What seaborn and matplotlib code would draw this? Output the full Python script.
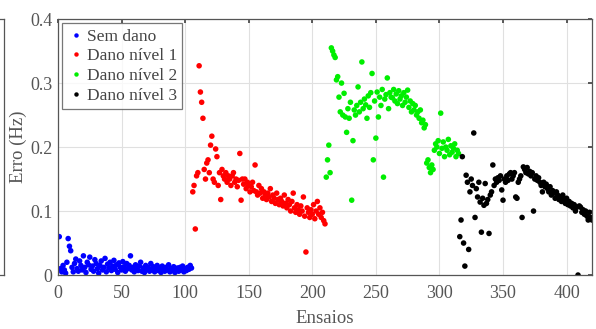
import numpy as np
import pandas as pd
import matplotlib
matplotlib.use("Agg")
import matplotlib.pyplot as plt
import seaborn as sns

categories = ["Sem dano", "Dano nível 1", "Dano nível 2", "Dano nível 3"]
colors = ["#0000ff", "#ff0000", "#00ee00", "#000000"]

sem_dano = [
    0.060, 0.010, 0.005, 0.015, 0.008, 0.003, 0.020, 0.057, 0.045, 0.038,
    0.012, 0.005, 0.018, 0.025, 0.010, 0.006, 0.022, 0.015, 0.008, 0.030,
    0.012, 0.004, 0.020, 0.016, 0.028, 0.009, 0.014, 0.006, 0.024, 0.018,
    0.010, 0.003, 0.015, 0.022, 0.008, 0.012, 0.026, 0.005, 0.017, 0.011,
    0.020, 0.007, 0.014, 0.023, 0.009, 0.016, 0.004, 0.019, 0.012, 0.008,
    0.021, 0.013, 0.006, 0.018, 0.010, 0.015, 0.030, 0.008, 0.012, 0.005,
    0.016, 0.010, 0.007, 0.014, 0.020, 0.006, 0.011, 0.004, 0.015, 0.009,
    0.012, 0.006, 0.018, 0.008, 0.013, 0.005, 0.010, 0.015, 0.007, 0.011,
    0.004, 0.014, 0.009, 0.006, 0.012, 0.008, 0.016, 0.005, 0.010, 0.007,
    0.013, 0.004, 0.009, 0.011, 0.006, 0.012, 0.008, 0.014, 0.005, 0.010,
    0.007, 0.012, 0.009, 0.015, 0.011,
]

dano_1 = [
    0.130, 0.140, 0.072, 0.155, 0.160, 0.327, 0.286, 0.270, 0.245, 0.165,
    0.150, 0.175, 0.180, 0.160, 0.203, 0.217, 0.150, 0.145, 0.197, 0.185,
    0.140, 0.160, 0.118, 0.165, 0.155, 0.150, 0.160, 0.145, 0.155, 0.150,
    0.140, 0.155, 0.160, 0.145, 0.150, 0.138, 0.148, 0.190, 0.117, 0.150,
    0.142, 0.150, 0.135, 0.145, 0.140, 0.130, 0.138, 0.145, 0.132, 0.172,
    0.130, 0.125, 0.140, 0.128, 0.135, 0.120, 0.130, 0.125, 0.118, 0.128,
    0.122, 0.135, 0.115, 0.125, 0.120, 0.112, 0.128, 0.118, 0.110, 0.120,
    0.115, 0.108, 0.125, 0.112, 0.105, 0.118, 0.110, 0.100, 0.115, 0.128,
    0.105, 0.098, 0.110, 0.102, 0.095, 0.108, 0.100, 0.122, 0.092, 0.036,
    0.105, 0.098, 0.090, 0.102, 0.095, 0.110, 0.088, 0.100, 0.115, 0.095,
    0.105, 0.090, 0.098, 0.085, 0.080,
]

dano_2 = [
    0.153, 0.180, 0.203, 0.160, 0.355, 0.350, 0.344, 0.340, 0.305, 0.310,
    0.278, 0.255, 0.300, 0.250, 0.284, 0.247, 0.223, 0.260, 0.245, 0.270,
    0.117, 0.210, 0.258, 0.250, 0.265, 0.294, 0.255, 0.270, 0.333, 0.260,
    0.275, 0.266, 0.245, 0.280, 0.262, 0.285, 0.315, 0.180, 0.272, 0.214,
    0.286, 0.247, 0.278, 0.265, 0.290, 0.153, 0.275, 0.282, 0.308, 0.260,
    0.285, 0.278, 0.277, 0.290, 0.272, 0.283, 0.268, 0.288, 0.275, 0.280,
    0.265, 0.285, 0.270, 0.278, 0.289, 0.262, 0.272, 0.255, 0.268, 0.258,
    0.265, 0.250, 0.255, 0.245, 0.258, 0.238, 0.242, 0.230, 0.235, 0.175,
    0.180, 0.168, 0.160, 0.172, 0.165, 0.195, 0.205, 0.200, 0.210, 0.190,
    0.253, 0.198, 0.208, 0.185, 0.200, 0.195, 0.212, 0.188, 0.202, 0.192,
    0.198, 0.205, 0.185, 0.195, 0.190,
]

dano_3 = [
    0.060, 0.086, 0.185, 0.050, 0.014, 0.156, 0.145, 0.040, 0.130, 0.150,
    0.140, 0.222, 0.090, 0.135, 0.122, 0.145, 0.114, 0.067, 0.120, 0.109,
    0.143, 0.112, 0.118, 0.065, 0.125, 0.130, 0.172, 0.140, 0.150, 0.145,
    0.152, 0.148, 0.155, 0.133, 0.117, 0.150, 0.145, 0.155, 0.148, 0.158,
    0.160, 0.150, 0.155, 0.160, 0.122, 0.120, 0.145, 0.150, 0.155, 0.090,
    0.169, 0.165, 0.160, 0.168, 0.158, 0.162, 0.155, 0.160, 0.100, 0.150,
    0.155, 0.148, 0.152, 0.145, 0.140, 0.130, 0.145, 0.138, 0.142, 0.135,
    0.130, 0.138, 0.125, 0.132, 0.128, 0.120, 0.130, 0.125, 0.118, 0.122,
    0.115, 0.125, 0.118, 0.112, 0.120, 0.110, 0.115, 0.108, 0.112, 0.105,
    0.110, 0.100, 0.106, 0.000, 0.108, 0.106, 0.098, 0.102, 0.095, 0.100,
    0.092, 0.086, 0.098, 0.090, 0.086,
]

x_ticks = [0, 50, 100, 150, 200, 250, 300, 350, 400]
y_ticks = [0, 0.1, 0.2, 0.3, 0.4]
y_tick_labels = ["0", "0.1", "0.2", "0.3", "0.4"]

series = [sem_dano, dano_1, dano_2, dano_3]
rows = []
start = 1
for name, vals in zip(categories, series):
    for i, v in enumerate(vals):
        rows.append({"Ensaios": start + i, "Erro": v, "Grupo": name})
    start += len(vals)
df = pd.DataFrame(rows)

sns.set_theme(style="white")
plt.rcParams["font.family"] = ["Liberation Serif", "DejaVu Serif"]

fig = plt.figure(figsize=(5.96, 3.29), dpi=100)

# sliver of neighbouring panel's frame at the far left
ax0 = fig.add_axes([-0.5, 0.164, 0.506, 0.778])
ax0.set_xticks([]); ax0.set_yticks([])
for s in ax0.spines.values():
    s.set_color("#555555"); s.set_linewidth(0.9)

ax = fig.add_axes([0.0973, 0.164, 0.896, 0.778])
sns.scatterplot(data=df, x="Ensaios", y="Erro", hue="Grupo",
                hue_order=categories, palette=colors, s=16,
                linewidth=0, ax=ax, legend=True)

ax.set_xlim(0, 420)
ax.set_ylim(0, 0.4)
ax.set_xticks(x_ticks)
ax.set_yticks(y_ticks)
ax.set_yticklabels(y_tick_labels)
ax.grid(True, color="#e0e0e0", linewidth=0.8)
ax.set_axisbelow(True)
ax.tick_params(direction="in", length=3, top=True, right=True,
               labelsize=13, colors="#444444", labelcolor="#555555")
ax.tick_params(axis="x", pad=7)
ax.tick_params(axis="y", pad=4)
for s in ax.spines.values():
    s.set_color("#555555"); s.set_linewidth(0.9)

ax.set_xlabel("Ensaios", fontsize=13.5, color="#555555", labelpad=6)
ax.set_ylabel("Erro (Hz)", fontsize=13.5, color="#555555", labelpad=2)

leg = ax.legend(loc="upper left", fontsize=12.5, frameon=True, fancybox=False,
                borderpad=0.3, handletextpad=0.1, handlelength=1.0,
                labelspacing=0.2, borderaxespad=0.25, markerscale=0.8)
leg.get_frame().set_edgecolor("#555555")
leg.get_frame().set_linewidth(0.9)
for t in leg.get_texts():
    t.set_color("#444444")

fig.savefig("out.png", dpi=100)
